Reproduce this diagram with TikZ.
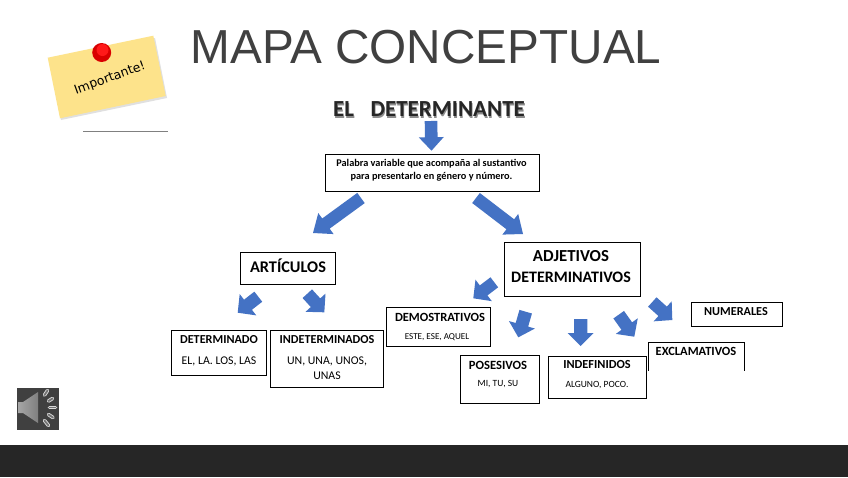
\documentclass[tikz,border=0pt]{standalone}
\usepackage{fontspec}
\setmainfont{Carlito}
\newfontfamily\titlefont{Liberation Sans}
\newfontfamily\notefont{DejaVu Sans}
\usetikzlibrary{calc}
\definecolor{arrowblue}{HTML}{4472C4}
\definecolor{titlegray}{HTML}{404040}
\definecolor{footer}{HTML}{262626}
\definecolor{notey}{HTML}{FDE38B}
\tikzset{
  boxst/.style={draw=black,line width=0.8pt,fill=white,inner sep=0pt},
  openst/.style={inner sep=0pt},
  lab/.style={inner sep=0pt,text=black,align=center},
}
\newcommand{\bx}[6][boxst]{\node[#1,minimum width={(#4-#2)*1pt},minimum height={(#5-#3)*1pt}] (#6) at ({(#2+#4)/2},{(#3+#5)/2}) {};}
\newcommand{\lbb}[5]{\node[lab,font=\fontsize{#4}{#4}\selectfont\bfseries] (#1) at (#2,#3) {#5};}
\newcommand{\lbr}[5]{\node[lab,font=\fontsize{#4}{#4}\selectfont] (#1) at (#2,#3) {#5};}
% tail, tip, half shaft, half head, head length
\newcommand{\barrow}[5]{%
  \coordinate (hb) at ($#2!#5pt!#1$);
  \fill[arrowblue] ($#1!#3pt!90:#2$) -- ($(hb)!#3pt!90:#2$) -- ($(hb)!#4pt!90:#2$) -- #2 -- ($(hb)!#4pt!-90:#2$) -- ($(hb)!#3pt!-90:#2$) -- ($#1!#3pt!-90:#2$) -- cycle;}
\begin{document}
\begin{tikzpicture}[x=1pt,y=-1pt]
\useasboundingbox (0,0) rectangle (848,477);
\fill[white] (0,0) rectangle (848,477);
\fill[footer] (0,445) rectangle (848,477);
% title
\node[inner sep=0pt,text=titlegray,font=\fontsize{47.7}{50}\titlefont] (title) at (426,47) {MAPA CONCEPTUAL};
% sticky note
\fill[black!12] (49,60) -- (155,38) -- (167,98) -- (61,120) -- cycle;
\fill[notey] (47.7,57.7) -- (153.3,35.7) -- (165.7,96) -- (60,118.3) -- cycle;
\fill[red!85!black] (101.7,52.5) circle (9.5);
\fill[red!90!white] (102.5,50) circle (6);
\node[rotate=20,inner sep=0pt,font=\fontsize{12.5}{12.5}\notefont] (imp) at (110,78.5) {Importante!};
\draw[gray,line width=1pt] (83,131) -- (168,131);
% heading
\node[inner sep=0pt,text=black!45,font=\fontsize{23}{23}\selectfont\bfseries] (headshadow) at (429.8,110.8) {EL\hspace{16.5pt}DETERMINANTE};
\node[inner sep=0pt,text=black!85,font=\fontsize{23}{23}\selectfont\bfseries] (heading) at (429,109.5) {EL\hspace{16.5pt}DETERMINANTE};
% boxes
\bx{325}{154}{539.3}{191}{main}
\bx{240.7}{252.3}{335.3}{284.7}{art}
\bx{171.7}{330.7}{266.7}{375.7}{det}
\bx{270.7}{330}{383.7}{387}{ind}
\bx{386.7}{307.7}{490.7}{346.7}{dem}
\bx{460.7}{355.7}{539.3}{403}{pos}
\bx{548.3}{356.3}{646}{398.7}{inf}
\bx[openst]{648.3}{342.3}{744.3}{370.7}{exc}
\bx{691}{302.7}{782.7}{326.3}{num}
\bx{504}{242.3}{640}{296.3}{adj}
\draw[black,line width=0.8pt] (exc.south west) -- (exc.north west) -- (exc.north east) -- (exc.south east);
% arrows
\barrow{(431,121)}{(431.5,150.7)}{6.3}{12.5}{13.5}
\barrow{(361,198)}{(313,233)}{6.3}{13}{16}
\barrow{(476,198)}{(523,234)}{6.3}{13}{16}
\barrow{(258.3,296.7)}{(237.7,312.7)}{6.4}{13.5}{13}
\barrow{(307.3,293.7)}{(324.3,312.3)}{6.4}{13.5}{13}
\barrow{(494.3,282.3)}{(473.3,298.3)}{6.3}{13.5}{13}
\barrow{(525.7,311.7)}{(518.3,337.3)}{6.5}{13.5}{13}
\barrow{(580.7,319)}{(580.7,346)}{6.6}{13}{13}
\barrow{(618.7,314.7)}{(634.3,336.7)}{6.5}{13.5}{13}
\barrow{(652.3,302)}{(672.3,320)}{6.3}{13.5}{13}
% labels
\lbr{maint1}{431.5}{163.5}{10.3}{\textbf{Palabra variable que acompaña al sustantivo}}
\lbr{maint2}{431.5}{176.5}{10.3}{\textbf{para presentarlo en género y número.}}
\lbb{artt}{288}{265.5}{16.3}{ARTÍCULOS}
\lbb{dett}{219}{340}{12.2}{DETERMINADO}
\lbr{dets}{219}{361.5}{11.8}{EL, LA. LOS, LAS}
\lbb{indt}{327}{339.5}{12.2}{INDETERMINADOS}
\lbr{inds}{327}{368}{11.8}{UN, UNA, UNOS,\\[3pt]UNAS}
\lbb{demt}{440}{317}{12.5}{DEMOSTRATIVOS}
\lbr{dems}{437}{337}{9.1}{ESTE, ESE, AQUEL}
\lbb{post}{498}{365}{12.6}{POSESIVOS}
\lbr{poss}{498}{384}{9.5}{MI, TU, SU}
\lbb{inft}{597}{365}{12.3}{INDEFINIDOS}
\lbr{infs}{597}{385}{9.5}{ALGUNO, POCO.}
\lbb{exct}{696}{351}{12.5}{EXCLAMATIVOS}
\lbb{numt}{736}{312}{12.2}{NUMERALES}
\lbb{adjt}{571}{256}{16.8}{ADJETIVOS}
\lbb{adjs}{571}{277}{16}{DETERMINATIVOS}
% speaker
\fill[black!75] (17,388) rectangle (59,430);
\shade[left color=black!35,right color=black!50] (18,402) -- (23,402) -- (38,392) -- (38,423) -- (23,413) -- (18,413) -- cycle;
\foreach \a/\b/\c/\d in {44.5/395/47.5/390.5,48.5/401/52.5/398.5,49.5/407.5/55.5/407.5,48.5/414.5/53/417.5,44.5/420.5/48.5/425.5}{
  \draw[black!15,line width=3.6pt,line cap=round] (\a,\b) -- (\c,\d);
  \draw[black!55,line width=1.8pt,line cap=round] (\a,\b) -- (\c,\d);
}
\end{tikzpicture}
\end{document}
